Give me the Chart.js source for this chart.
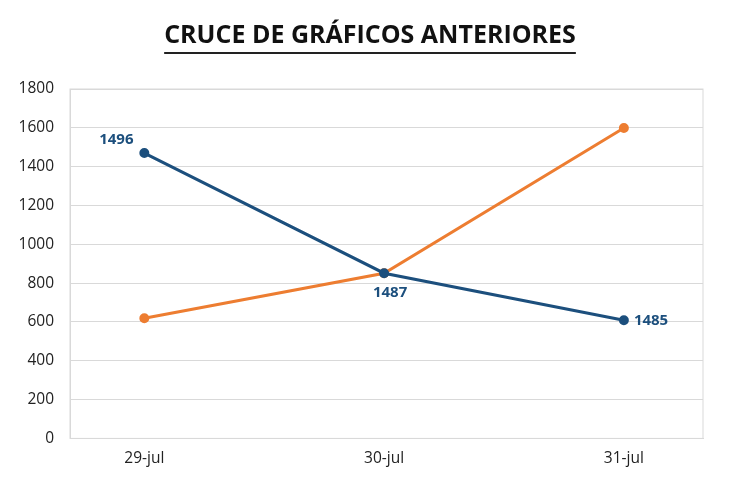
<!DOCTYPE html>
<html>
<head>
<meta charset="utf-8">
<script src="https://cdn.jsdelivr.net/npm/chart.js@4/dist/chart.umd.min.js"></script>
<style>
  body { margin: 0; background: #fff; }
  .wrap { width: 730px; height: 486px; position: relative; }
</style>
</head>
<body>
<div class="wrap"><canvas id="myChart"></canvas></div>
<script>
const titleText = 'CRUCE DE GRÁFICOS ANTERIORES';
const dates = ['29-jul', '30-jul', '31-jul'];
const blueValues = [1470, 851, 609];
const blueLabels = ['1496', '1487', '1485'];
const orangeValues = [619, 851, 1599];
const yTicks = [0, 200, 400, 600, 800, 1000, 1200, 1400, 1600, 1800];

const BLUE = '#1c4f7d';
const ORANGE = '#ed7d31';

// title with underline + point labels of the blue series
const extras = {
  id: 'extras',
  afterDraw(chart) {
    const ctx = chart.ctx;
    ctx.save();
    ctx.font = 'bold 25px "Open Sans"';
    ctx.fillStyle = '#111';
    ctx.textAlign = 'center';
    ctx.textBaseline = 'middle';
    const cx = 370;
    ctx.fillText(titleText, cx, 36);
    const w = ctx.measureText(titleText).width;
    ctx.strokeStyle = '#222';
    ctx.lineWidth = 2;
    ctx.beginPath();
    ctx.moveTo(cx - w / 2, 53);
    ctx.lineTo(cx + w / 2, 53);
    ctx.stroke();

    const meta = chart.getDatasetMeta(0);
    ctx.fillStyle = BLUE;
    ctx.font = 'bold 15px "Open Sans"';
    const offs = [[-28, -13, 'center'], [6, 20, 'center'], [10, 1, 'left']];
    meta.data.forEach((p, i) => {
      ctx.textAlign = offs[i][2];
      ctx.fillText(blueLabels[i], p.x + offs[i][0], p.y + offs[i][1]);
    });
    ctx.restore();
  }
};

new Chart(document.getElementById('myChart'), {
  type: 'line',
  data: {
    datasets: [
      {
        data: blueValues.map((v, i) => ({ x: i, y: v })),
        borderColor: BLUE,
        backgroundColor: BLUE,
        borderWidth: 3,
        pointRadius: 3.5,
        fill: false,
      },
      {
        data: orangeValues.map((v, i) => ({ x: i, y: v })),
        borderColor: ORANGE,
        backgroundColor: ORANGE,
        borderWidth: 3,
        pointRadius: 3.5,
        fill: false,
      },
    ],
  },
  options: {
    responsive: true,
    maintainAspectRatio: false,
    animation: false,
    layout: { padding: { left: 0, right: 27, bottom: 7, top: 89 } },
    plugins: {
      legend: { display: false },
      tooltip: { enabled: false },
    },
    scales: {
      x: {
        type: 'linear',
        min: -0.31,
        max: 2.33,
        afterBuildTicks: (axis) => { axis.ticks = dates.map((d, i) => ({ value: i })); },
        ticks: {
          callback: (v) => dates[v],
          color: '#222',
          font: { family: 'Open Sans', size: 15.5 },
          padding: 11,
        },
        grid: { display: false, drawTicks: false },
        border: { display: true, color: '#d9d9d9' },
      },
      y: {
        min: 0,
        max: 1800,
        afterBuildTicks: (axis) => { axis.ticks = yTicks.map((v) => ({ value: v })); },
        afterFit: (axis) => { axis.width = 70; },
        ticks: {
          callback: (v) => String(v),
          color: '#222',
          font: { family: 'Open Sans', size: 15.5 },
          padding: 16,
        },
        grid: { color: '#d9d9d9', drawTicks: false },
        border: { display: true, color: '#d9d9d9' },
      },
    },
  },
  plugins: [extras, {
    id: 'frame',
    afterDraw(chart) {
      const a = chart.chartArea;
      const ctx = chart.ctx;
      ctx.save();
      ctx.strokeStyle = '#d9d9d9';
      ctx.lineWidth = 1;
      ctx.strokeRect(a.left, a.top, a.right - a.left, a.bottom - a.top);
      ctx.restore();
    }
  }],
});
</script>
</body>
</html>
